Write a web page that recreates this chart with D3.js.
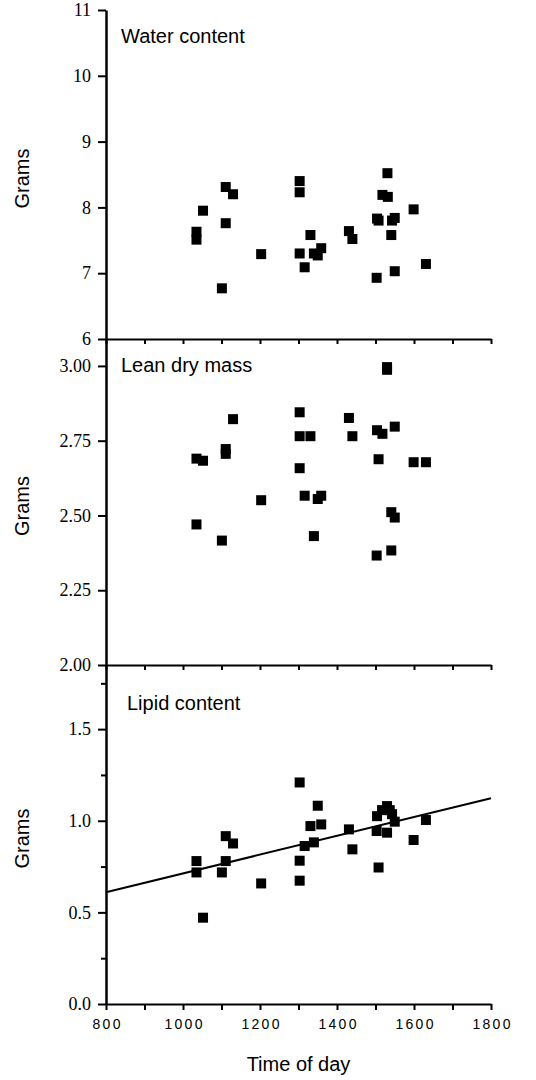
<!DOCTYPE html>
<html>
<head>
<meta charset="utf-8">
<script src="https://cdn.jsdelivr.net/npm/d3@7/dist/d3.min.js"></script>
<style>
  body { margin: 0; background: #fff; }
  svg { display: block; }
</style>
</head>
<body>
<svg id="chart"></svg>
<script>
// time of day vs grams
const waterPts = [
    [1035, 7.63], [1035, 7.51], [1052, 7.95], [1111, 8.31], [1130, 8.20],
    [1111, 7.76], [1101, 6.77], [1203, 7.29], [1303, 8.40], [1303, 8.23],
    [1303, 7.30], [1316, 7.09], [1331, 7.58], [1340, 7.30], [1350, 7.27],
    [1359, 7.38], [1431, 7.64], [1440, 7.52], [1504, 7.83], [1508, 7.80],
    [1531, 8.52], [1518, 8.19], [1532, 8.16], [1543, 7.80], [1550, 7.84],
    [1541, 7.58], [1503, 6.93], [1550, 7.03], [1599, 7.97], [1631, 7.14]
];
const leanPts = [
    [1035, 2.690], [1052, 2.683], [1111, 2.722], [1111, 2.706], [1130, 2.822],
    [1035, 2.470], [1101, 2.416], [1203, 2.551], [1303, 2.845], [1303, 2.765],
    [1331, 2.765], [1303, 2.658], [1316, 2.566], [1350, 2.555], [1359, 2.566],
    [1340, 2.431], [1431, 2.826], [1440, 2.765], [1504, 2.785], [1518, 2.773],
    [1530, 2.996], [1530, 2.987], [1550, 2.797], [1508, 2.688], [1599, 2.678],
    [1631, 2.678], [1541, 2.511], [1550, 2.493], [1503, 2.366], [1541, 2.383]
];
const lipidPts = [
    [1035, 0.780], [1035, 0.718], [1052, 0.471], [1111, 0.916], [1130, 0.876],
    [1111, 0.780], [1101, 0.718], [1203, 0.658], [1303, 1.209], [1303, 0.782],
    [1303, 0.673], [1316, 0.862], [1331, 0.971], [1340, 0.882], [1350, 1.082],
    [1359, 0.980], [1431, 0.953], [1440, 0.844], [1504, 1.025], [1503, 0.944],
    [1508, 0.745], [1517, 1.058], [1530, 1.080], [1537, 1.058], [1543, 1.036],
    [1550, 0.995], [1530, 0.935], [1599, 0.895], [1631, 1.004]
];
const lipidFit = [[800, 0.61], [1800, 1.123]];

const titles = ["Water content", "Lean dry mass", "Lipid content"];
const waterTicks = [6, 7, 8, 9, 10, 11];
const leanTicks = [2.00, 2.25, 2.50, 2.75, 3.00];
const lipidTicks = [0.0, 0.5, 1.0, 1.5];
const lipidMinor = [0.25, 0.75, 1.25, 1.75];
const timeTicks = d3.range(800, 1801, 100);

const W = 536, H = 1080;
const svg = d3.select("#chart").attr("width", W).attr("height", H);

const x = d3.scaleLinear().domain([800, 1800]).range([106, 491]);

const panels = [
    { title: titles[0], pts: waterPts, ticks: waterTicks, fmt: d3.format("d"),
      y: d3.scaleLinear().domain([6, 11]).range([339, 10]), tx: 121, ty: 43 },
    { title: titles[1], pts: leanPts, ticks: leanTicks, fmt: d3.format(".2f"),
      y: d3.scaleLinear().domain([2, 3.09]).range([665, 339]), tx: 121, ty: 372 },
    { title: titles[2], pts: lipidPts, ticks: lipidTicks, fmt: d3.format(".1f"),
      y: d3.scaleLinear().domain([0, 1.85]).range([1004, 665]), tx: 127, ty: 710 }
];

panels.forEach((p, i) => {
    const g = svg.append("g");
    const yBottom = p.y.range()[0];

    // x axis along the bottom of each panel
    const xa = g.append("g")
        .attr("transform", `translate(0,${yBottom})`)
        .call(d3.axisBottom(x)
            .tickValues(timeTicks)
            .tickSize(i === 2 ? 6 : 5)
            .tickSizeOuter(0)
            .tickPadding(9)
            .tickFormat(d => (i === 2 && d % 200 === 0) ? d : ""));
    xa.select(".domain").attr("stroke-width", 2);
    xa.selectAll(".tick line").attr("stroke-width", 2);
    xa.selectAll("text")
        .style("font-family", "'Liberation Sans', Arial, sans-serif")
        .style("font-size", "14px")
        .style("letter-spacing", "2.3px")
        .attr("dx", "1.1px")
        .attr("fill", "#000");

    // y axis
    const ya = g.append("g")
        .attr("transform", `translate(${x.range()[0]},0)`)
        .call(d3.axisLeft(p.y)
            .tickValues(p.ticks)
            .tickSize(8)
            .tickSizeOuter(0)
            .tickPadding(7)
            .tickFormat(p.fmt));
    ya.select(".domain").attr("stroke-width", 2.5);
    ya.selectAll(".tick line").attr("stroke-width", 2);
    ya.selectAll("text")
        .style("font-family", "'Liberation Serif', 'Times New Roman', serif")
        .style("font-size", "18px")
        .attr("fill", "#000");

    if (i === 2) {
        g.append("g")
            .attr("transform", `translate(${x.range()[0]},0)`)
            .call(d3.axisLeft(p.y).tickValues(lipidMinor).tickSize(5).tickFormat(""))
            .call(a => a.select(".domain").remove())
            .selectAll(".tick line").attr("stroke-width", 2);
    }

    // y label
    const yMid = (p.y.range()[0] + p.y.range()[1]) / 2;
    g.append("text")
        .attr("transform", `translate(29,${yMid + 4}) rotate(-90)`)
        .attr("text-anchor", "middle")
        .attr("font-family", "'Liberation Sans', Arial, sans-serif")
        .attr("font-size", 20)
        .text("Grams");

    g.append("text")
        .attr("x", p.tx)
        .attr("y", p.ty)
        .attr("font-family", "'Liberation Sans', Arial, sans-serif")
        .attr("font-size", 20)
        .text(p.title);

    g.selectAll("rect.pt")
        .data(p.pts)
        .join("rect")
            .classed("pt", true)
            .attr("x", d => x(d[0]) - 5)
            .attr("y", d => p.y(d[1]) - 5)
            .attr("width", 10)
            .attr("height", 10)
            .attr("fill", "#000");

    if (i === 2) {
        g.append("path")
            .datum(lipidFit)
            .attr("fill", "none")
            .attr("stroke", "#000")
            .attr("stroke-width", 2)
            .attr("d", d3.line().x(d => x(d[0])).y(d => p.y(d[1])));
    }
});

svg.append("text")
    .attr("x", (x.range()[0] + x.range()[1]) / 2)
    .attr("y", 1071)
    .attr("text-anchor", "middle")
    .attr("font-family", "'Liberation Sans', Arial, sans-serif")
    .attr("font-size", 20)
    .text("Time of day");
</script>
</body>
</html>
